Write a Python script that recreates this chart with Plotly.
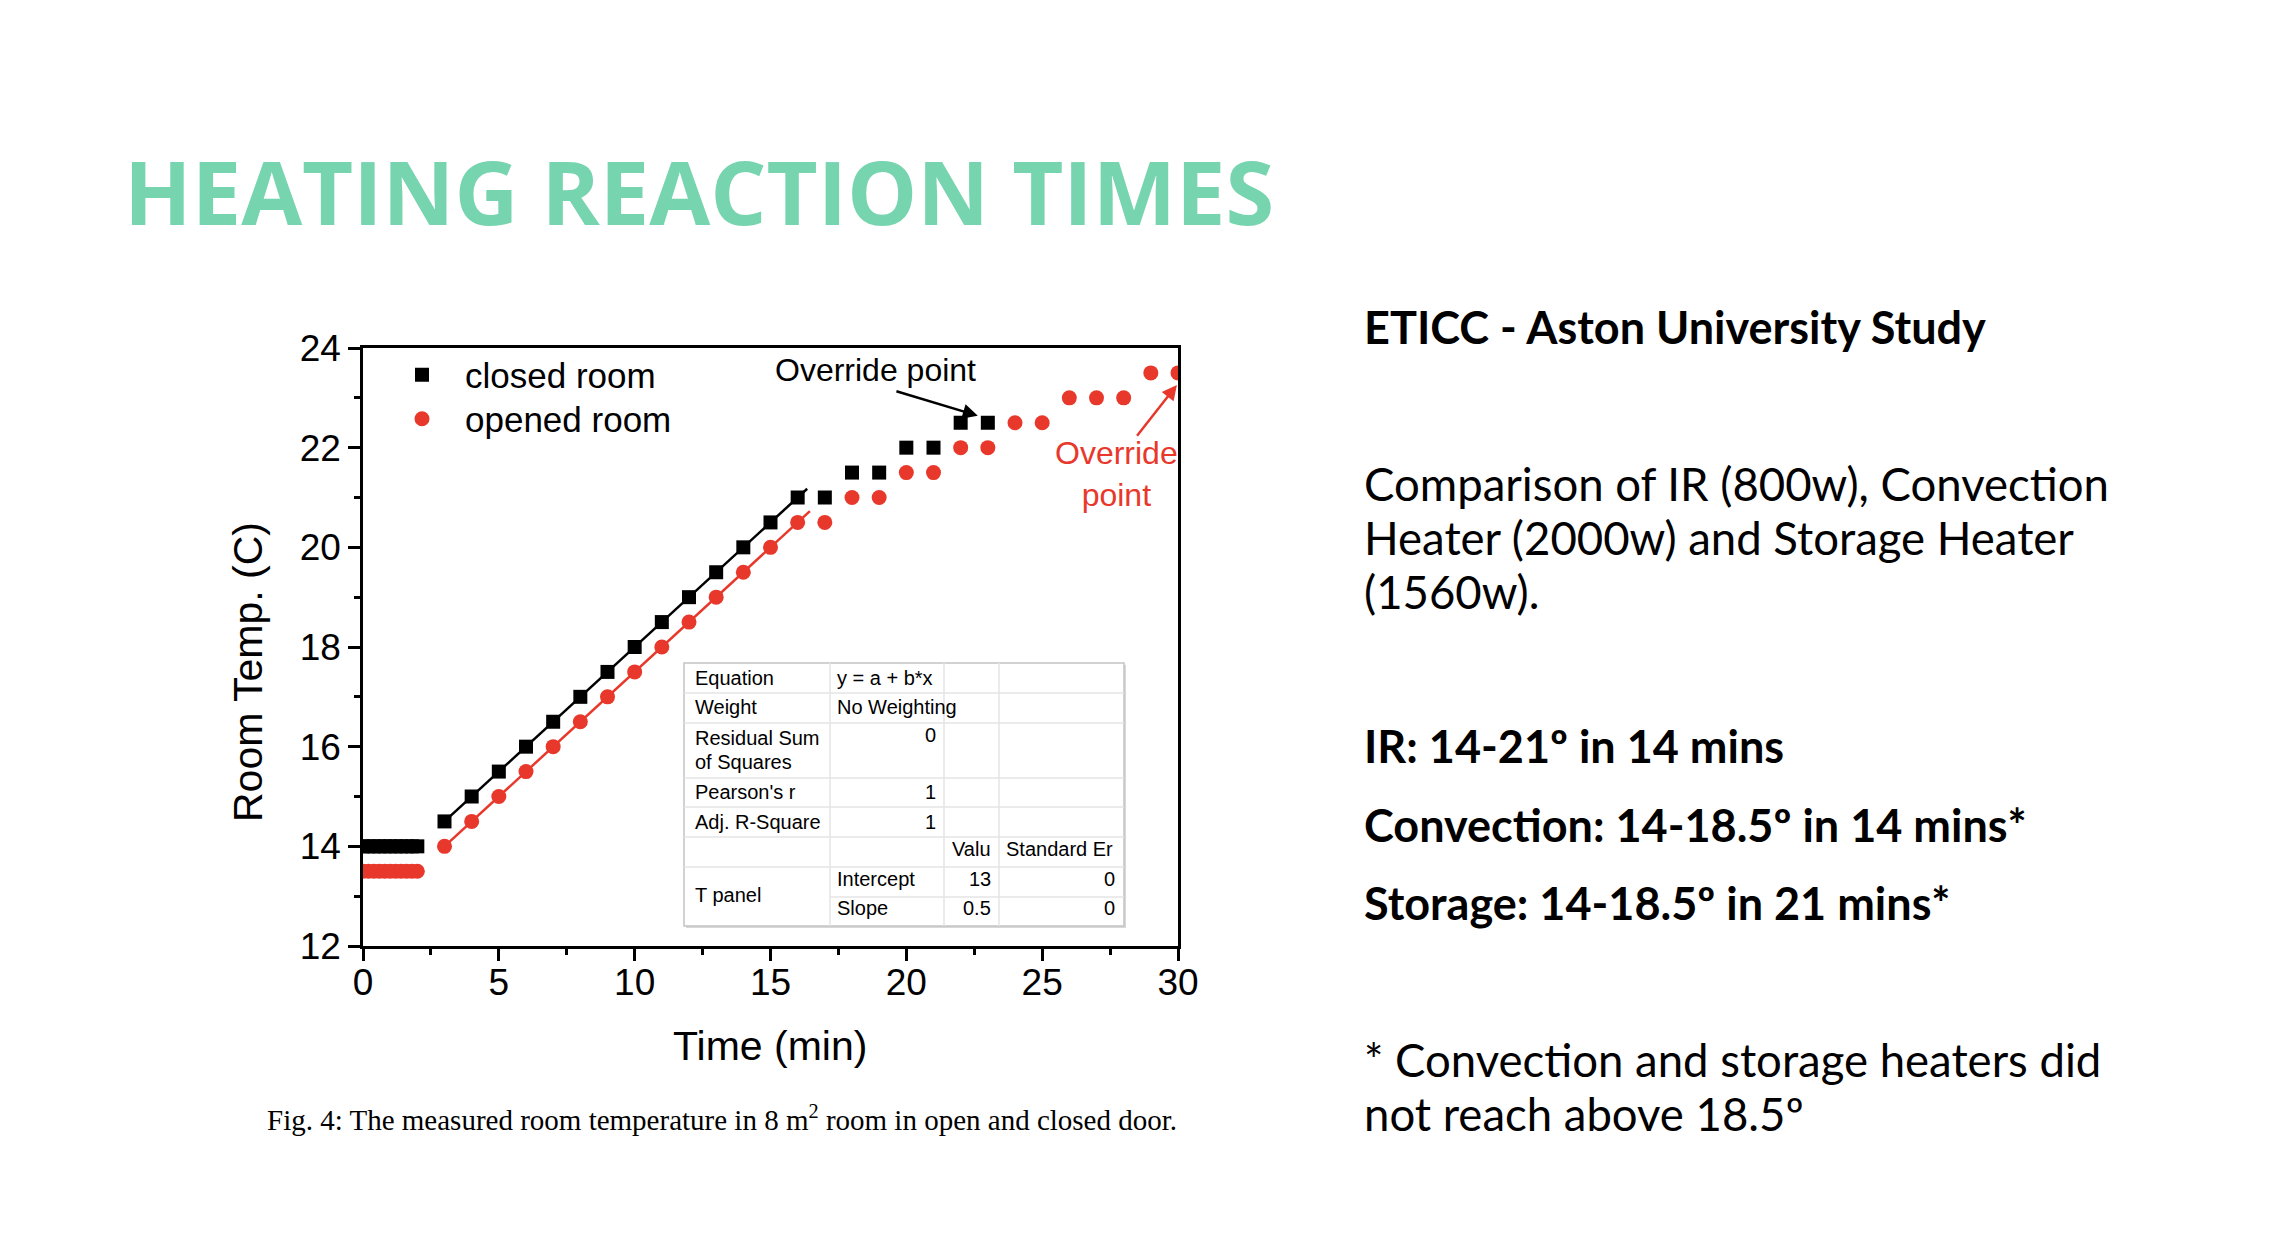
import plotly.graph_objs as go

# ----- Data -----
closed_x = [0, 0.2, 0.4, 0.6, 0.8, 1.0, 1.2, 1.4, 1.6, 1.8, 2.0,
            3, 4, 5, 6, 7, 8, 9, 10, 11, 12, 13, 14, 15, 16, 17, 18, 19, 20, 21, 22, 23]
closed_y = [14, 14, 14, 14, 14, 14, 14, 14, 14, 14, 14,
            14.5, 15, 15.5, 16, 16.5, 17, 17.5, 18, 18.5, 19, 19.5, 20, 20.5, 21, 21,
            21.5, 21.5, 22, 22, 22.5, 22.5]

opened_x = [0, 0.2, 0.4, 0.6, 0.8, 1.0, 1.2, 1.4, 1.6, 1.8, 2.0,
            3, 4, 5, 6, 7, 8, 9, 10, 11, 12, 13, 14, 15, 16, 17, 18, 19, 20, 21, 22, 23,
            24, 25, 26, 27, 28, 29, 30]
opened_y = [13.5, 13.5, 13.5, 13.5, 13.5, 13.5, 13.5, 13.5, 13.5, 13.5, 13.5,
            14, 14.5, 15, 15.5, 16, 16.5, 17, 17.5, 18, 18.5, 19, 19.5, 20, 20.5, 20.5,
            21, 21, 21.5, 21.5, 22, 22, 22.5, 22.5, 23, 23, 23, 23.5, 23.5]

# linear fits y = a + b*x
closed_fit_x = [3, 16.35]
opened_fit_x = [3, 16.45]
closed_intercept = 13
opened_intercept = 12.5
fit_slope = 0.5

# fit statistics table
stat_names = ["Equation", "Weight", "Residual Sum", "of Squares", "Pearson's r", "Adj. R-Square"]
stat_values = ["y = a + b*x", "No Weighting", "0", "", "1", "1"]
param_header = ["Valu", "Standard Er"]
param_group = "T panel"
param_names = ["Intercept", "Slope"]
param_values = ["13", "0.5"]
param_errors = ["0", "0"]

title_text = "HEATING REACTION TIMES"
caption = "Fig. 4: The measured room temperature in 8 m<sup>2</sup> room in open and closed door."
side_lines = [
    ("ETICC - Aston University Study", True),
    ("Comparison of IR (800w), Convection", False),
    ("Heater (2000w) and Storage Heater", False),
    ("(1560w).", False),
    ("IR: 14-21º in 14 mins", True),
    ("Convection: 14-18.5º in 14 mins*", True),
    ("Storage: 14-18.5º in 21 mins*", True),
    ("* Convection and storage heaters did", False),
    ("not reach above 18.5º", False),
]

# ----- Layout helpers (screen pixel -> paper) -----
W, H = 2292, 1250
OFF = 8  # page body margin
L, R, T, B = 363, 1178, 348, 946


def px(x):
    return (x - L) / (R - L)


def py(y):
    return (B - y) / (B - T)


RED = "#e8382b"
GREEN = "#76d4af"
AX_FONT = "Liberation Sans, Arial, sans-serif"

fig = go.Figure()

fig.add_trace(go.Scatter(
    x=closed_fit_x, y=[closed_intercept + fit_slope * v for v in closed_fit_x],
    mode="lines", line=dict(color="black", width=2.5), showlegend=False, hoverinfo="skip"))
fig.add_trace(go.Scatter(
    x=opened_fit_x, y=[opened_intercept + fit_slope * v for v in opened_fit_x],
    mode="lines", line=dict(color=RED, width=2.5), showlegend=False, hoverinfo="skip"))

fig.add_trace(go.Scatter(
    x=closed_x, y=closed_y, mode="markers", name="closed room", legend="legend",
    marker=dict(symbol="square", size=14, color="black")))
fig.add_trace(go.Scatter(
    x=opened_x, y=opened_y, mode="markers", name="opened room", legend="legend2",
    marker=dict(symbol="circle", size=15, color=RED)))

axis_common = dict(
    showline=True, linecolor="black", linewidth=2.5, mirror=True,
    ticks="outside", ticklen=12, tickwidth=2.5, tickcolor="black",
    showgrid=False, zeroline=False,
    tickfont=dict(family=AX_FONT, size=37, color="black"),
)

legend_common = dict(xanchor="left", yanchor="middle", bgcolor="rgba(0,0,0,0)",
                     itemwidth=76, font=dict(family=AX_FONT, size=35, color="black"))

fig.update_layout(
    width=W, height=H,
    margin=dict(l=L - OFF, r=W - R + OFF, t=T - OFF, b=H - B + OFF, pad=0),
    paper_bgcolor="white", plot_bgcolor="white",
    xaxis=dict(range=[0, 30], dtick=5, tick0=0, ticklabelstandoff=-10,
               minor=dict(dtick=2.5, ticks="outside", ticklen=6, tickwidth=2.5, tickcolor="black"),
               **axis_common),
    yaxis=dict(range=[12, 24], dtick=2, tick0=12,
               minor=dict(dtick=1, ticks="outside", ticklen=6, tickwidth=2.5, tickcolor="black"),
               **axis_common),
    showlegend=True,
    legend=dict(x=px(379), y=py(375), **legend_common),
    legend2=dict(x=px(379), y=py(419), **legend_common),
)

annotations = []


def label(text, x, y, size, color="black", family=AX_FONT, xanchor="center", **kw):
    annotations.append(dict(text=text, x=px(x), y=py(y), xref="paper", yref="paper",
                            xanchor=xanchor, yanchor="middle", showarrow=False,
                            font=dict(family=family, size=size, color=color), **kw))


# axis titles
label("Time (min)", 770, 1046, 41)
label("Room Temp. (C)", 248, 672, 41, textangle=-90)

# override annotations
annotations.append(dict(text="Override point", x=18.88, y=23.55, xref="x", yref="y",
                        xanchor="center", yanchor="middle", showarrow=False,
                        font=dict(family=AX_FONT, size=32, color="black")))
annotations.append(dict(text="", x=22.63, y=22.64, ax=19.58, ay=23.14, xref="x", yref="y",
                        axref="x", ayref="y", showarrow=True, arrowhead=2, arrowsize=1.2,
                        arrowwidth=2.5, arrowcolor="black"))
annotations.append(dict(text="Override<br>point", x=27.75, y=21.47, xref="x", yref="y",
                        xanchor="center", yanchor="middle", showarrow=False,
                        font=dict(family=AX_FONT, size=32, color=RED)))
annotations.append(dict(text="", x=29.96, y=23.26, ax=28.45, ay=22.21, xref="x", yref="y",
                        axref="x", ayref="y", showarrow=True, arrowhead=2, arrowsize=1.2,
                        arrowwidth=2.5, arrowcolor=RED))

# ----- statistics table drawn with shapes -----
tab_l, tab_r, tab_t, tab_b = 684, 1124, 663, 926
col_edges = [830, 944, 999]
row_edges = [693, 723, 778, 807, 837, 867, 897]
shapes = []
shapes.append(dict(type="rect", xref="paper", yref="paper",
                   x0=px(tab_l + 2), x1=px(tab_r + 2), y0=py(tab_b + 2), y1=py(tab_t + 2),
                   fillcolor="#d8d8d8", line=dict(width=0), layer="above"))
shapes.append(dict(type="rect", xref="paper", yref="paper",
                   x0=px(tab_l), x1=px(tab_r), y0=py(tab_b), y1=py(tab_t),
                   fillcolor="white", line=dict(color="#c4c4c4", width=1.5), layer="above"))
for i, ry in enumerate(row_edges):
    x0 = col_edges[0] if i == len(row_edges) - 1 else tab_l
    shapes.append(dict(type="line", xref="paper", yref="paper",
                       x0=px(x0), x1=px(tab_r), y0=py(ry), y1=py(ry),
                       line=dict(color="#e4e4e4", width=1.5), layer="above"))
for cx in col_edges:
    shapes.append(dict(type="line", xref="paper", yref="paper",
                       x0=px(cx), x1=px(cx), y0=py(tab_b), y1=py(tab_t),
                       line=dict(color="#e4e4e4", width=1.5), layer="above"))

name_rows_y = [678, 707, 738, 762, 792, 822]
value_rows_y = [678, 707, 735, 762, 792, 822]
for name, ty in zip(stat_names, name_rows_y):
    label(name, 693, ty, 20, xanchor="left")
for i, (val, ty) in enumerate(zip(stat_values, value_rows_y)):
    if not val:
        continue
    if i < 2:
        label(val, 835, ty, 20, xanchor="left")
    else:
        label(val, 938, ty, 20, xanchor="right")
label(param_header[0], 993, 849, 20, xanchor="right")
label(param_header[1], 1004, 849, 20, xanchor="left")
label(param_group, 693, 895, 20, xanchor="left")
for nm, v, e, ty in zip(param_names, param_values, param_errors, [879, 908]):
    label(nm, 835, ty, 20, xanchor="left")
    label(v, 993, ty, 20, xanchor="right")
    label(e, 1117, ty, 20, xanchor="right")

# ----- slide text -----
label("<b>" + title_text + "</b>", 122, 191, 88.4, color=GREEN, family="Open Sans", xanchor="left")
label(caption, 722, 1118, 29, family="Liberation Serif, Times New Roman, serif")

side_y = [327, 483, 537, 591, 746, 825, 903, 1059, 1113]
for (txt, bold), sy in zip(side_lines, side_y):
    label(("<b>%s</b>" % txt) if bold else txt, 1362, sy, 45 if bold else 45.5,
          family="Lato", xanchor="left")

fig.update_layout(annotations=annotations, shapes=shapes)

fig.write_html("out.html")
